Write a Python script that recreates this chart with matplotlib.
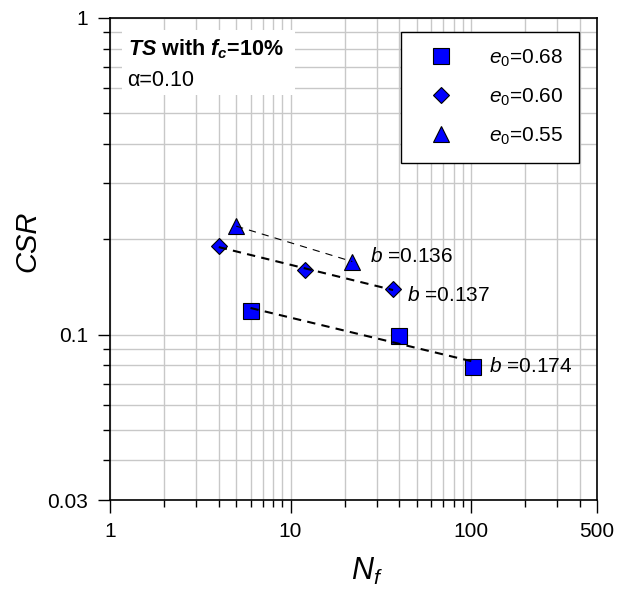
import numpy as np
import matplotlib
matplotlib.use("Agg")
import matplotlib.pyplot as plt
from matplotlib.patches import Rectangle
from matplotlib.ticker import FixedLocator, FixedFormatter, LogLocator, NullFormatter

plt.rcParams["font.family"] = ["Liberation Sans", "DejaVu Sans"]
plt.rcParams["mathtext.fontset"] = "custom"
plt.rcParams["mathtext.rm"] = "Liberation Sans"
plt.rcParams["mathtext.it"] = "Liberation Sans:italic"
plt.rcParams["mathtext.bf"] = "Liberation Sans:bold"
plt.rcParams["mathtext.bfit"] = "Liberation Sans:bold:italic"

# data
nf_068 = [6, 40, 103]
csr_068 = [0.119, 0.099, 0.079]
nf_060 = [4, 12, 37]
csr_060 = [0.190, 0.160, 0.139]
nf_055 = [5, 22]
csr_055 = [0.220, 0.170]

b_labels = [r"$b$ =0.174", r"$b$ =0.137", r"$b$ =0.136"]
series_labels = [r"$e_0$=0.68", r"$e_0$=0.60", r"$e_0$=0.55"]

x_ticks = [1, 10, 100, 500]
y_ticks = [0.03, 0.1, 1]

fig = plt.figure(figsize=(6.22, 5.90), dpi=100)
ax = fig.add_axes([0.177, 0.1525, 0.783, 0.817])

series = [
    (nf_068, csr_068, "s", 11.5, 1.5, (0, (4, 3))),
    (nf_060, csr_060, "D", 8.5, 1.5, (0, (4, 3))),
    (nf_055, csr_055, "^", 12, 0.8, (0, (6.5, 5.5))),
]

handles = []
for (x, y, m, ms, lw, ls), lab in zip(series, series_labels):
    h, = ax.plot(x, y, linestyle="None", marker=m, markersize=ms,
                 markerfacecolor="#0000ff", markeredgecolor="black",
                 markeredgewidth=0.8, zorder=4, label=lab)
    handles.append(h)

# fitted power-law trend lines (log-log regression of each series)
for x, y, m, ms, lw, ls in series:
    k, c = np.polyfit(np.log10(x), np.log10(y), 1)
    xf = np.array([min(x), max(x)])
    ax.plot(xf, 10 ** (c + k * np.log10(xf)), color="black", lw=lw,
            linestyle=ls, zorder=5)

# b labels next to last point of each series
ax.text(nf_068[-1] * 1.22, csr_068[-1], b_labels[0], fontsize=15,
        va="center", ha="left")
ax.text(nf_060[-1] * 1.2, csr_060[-1] * 0.957, b_labels[1], fontsize=15,
        va="center", ha="left")
ax.text(nf_055[-1] * 1.26, csr_055[-1] * 1.04, b_labels[2], fontsize=15,
        va="center", ha="left")

ax.set_xscale("log")
ax.set_yscale("log")
ax.set_xlim(1, 500)
ax.set_ylim(0.03, 1)

ax.xaxis.set_major_locator(FixedLocator(x_ticks))
ax.xaxis.set_major_formatter(FixedFormatter([str(v) for v in x_ticks]))
ax.xaxis.set_minor_locator(LogLocator(base=10, subs=np.arange(2, 10)))
ax.xaxis.set_minor_formatter(NullFormatter())
ax.yaxis.set_major_locator(FixedLocator(y_ticks))
ax.yaxis.set_major_formatter(FixedFormatter(["0.03", "0.1", "1"]))
ax.yaxis.set_minor_locator(LogLocator(base=10, subs=np.arange(2, 10)))
ax.yaxis.set_minor_formatter(NullFormatter())

ax.tick_params(which="major", length=9, width=1, labelsize=15, pad=7)
ax.tick_params(which="minor", length=5, width=1)
ax.grid(True, which="both", color="#c8c8c8", linewidth=1.0)
ax.set_axisbelow(True)
for sp in ax.spines.values():
    sp.set_linewidth(1.2)

fig.text(367 / 622, 1 - 580 / 590, r"$N_f$", fontsize=22,
         ha="center", va="baseline")
fig.text(27 / 622, 1 - 241 / 590, "CSR", fontsize=21, style="italic",
         rotation=90, ha="center", va="center")

# white panel behind the condition text
ax.add_patch(Rectangle((0.025, 0.84), 0.355, 0.135, transform=ax.transAxes,
                       facecolor="white", edgecolor="none", zorder=2))
ax.text(0.037, 0.922, r"$\mathbfit{TS}$ with $\mathbfit{f}_{\mathbfit{c}}$=10%",
        transform=ax.transAxes, fontsize=15.5, fontweight="bold",
        ha="left", va="baseline", zorder=3)
ax.text(0.035, 0.858, "α=0.10", transform=ax.transAxes, fontsize=15.5,
        ha="left", va="baseline", zorder=3)

leg = ax.legend(handles=handles, loc="upper right",
                bbox_to_anchor=(0.963, 0.971), fontsize=15, frameon=True,
                fancybox=False, edgecolor="black", framealpha=1,
                borderpad=0.75, labelspacing=0.85, handlelength=2.4,
                handletextpad=1.1, borderaxespad=0)
leg.get_frame().set_linewidth(1.0)

fig.savefig("out.png", dpi=100)
